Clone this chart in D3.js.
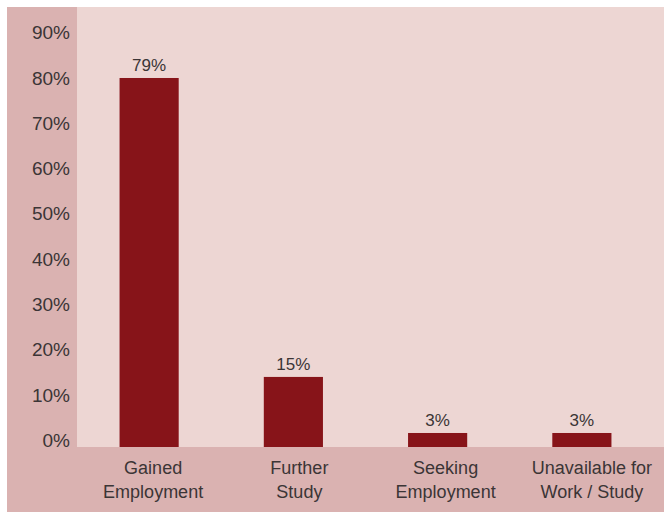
<!DOCTYPE html>
<html>
<head>
<meta charset="utf-8">
<script src="https://cdn.jsdelivr.net/npm/d3@7"></script>
<style>
  html, body { margin: 0; padding: 0; background: #ffffff; }
  svg { display: block; font-family: "Liberation Sans", Arial, sans-serif; }
</style>
</head>
<body>
<svg id="chart" width="664" height="512"></svg>
<script>
// Graduate outcomes by destination (share of graduates)
const categories = [["Gained", "Employment"], ["Further", "Study"], ["Seeking", "Employment"], ["Unavailable for", "Work / Study"]];
const values = [0.79, 0.15, 0.03, 0.03];
const valueLabels = ["79%", "15%", "3%", "3%"];
const tickValues = [0, 0.1, 0.2, 0.3, 0.4, 0.5, 0.6, 0.7, 0.8, 0.9];

const svg = d3.select("#chart");
const W = 664, H = 512;
const frame = { left: 7, top: 7 };
const plot = { left: 77, top: 7, right: 664, bottom: 447 };

const colors = {
  frame: "#dab2b1",
  plot: "#edd6d3",
  bar: "#871419",
  text: "#3b3536"
};

// outer panel and plot area
svg.append("rect")
  .attr("x", frame.left).attr("y", frame.top)
  .attr("width", W - frame.left).attr("height", H - frame.top)
  .attr("fill", colors.frame);
svg.append("rect")
  .attr("x", plot.left).attr("y", plot.top)
  .attr("width", plot.right - plot.left).attr("height", plot.bottom - plot.top)
  .attr("fill", colors.plot);

const keys = categories.map(c => c.join(" "));

// bar positions
const x = d3.scaleBand().domain(keys).range([77, 654]).paddingInner(0.59).paddingOuter(0.295);
// category label positions
const xLabel = d3.scaleBand().domain(keys).range([80, 665]);
// bar heights
const y = d3.scaleLinear().domain([0, 1]).range([plot.bottom, plot.bottom - 467.1]);
// value axis labels
const yTick = d3.scaleLinear().domain([0, 0.9]).range([439.5, 32]);

// bars
svg.append("g").selectAll("rect")
  .data(values)
  .join("rect")
  .attr("x", (d, i) => x(keys[i]))
  .attr("width", x.bandwidth())
  .attr("y", d => y(d))
  .attr("height", d => y(0) - y(d))
  .attr("fill", colors.bar);

// value labels above bars
svg.append("g").selectAll("text")
  .data(values)
  .join("text")
  .attr("x", (d, i) => x(keys[i]) + x.bandwidth() / 2)
  .attr("y", d => y(d) - 7)
  .attr("text-anchor", "middle")
  .attr("font-size", 17)
  .attr("fill", colors.text)
  .text((d, i) => valueLabels[i]);

// value axis
const yAxis = d3.axisLeft(yTick).tickValues(tickValues).tickFormat(d3.format(".0%")).tickSize(0).tickPadding(0);
const gy = svg.append("g").attr("transform", "translate(70,0)").call(yAxis);
gy.select(".domain").remove();
gy.selectAll("text")
  .attr("font-size", 19)
  .attr("font-family", "Liberation Sans, Arial, sans-serif")
  .attr("fill", colors.text)
  .attr("dy", "0.36em");

// category axis
const xAxis = d3.axisBottom(xLabel).tickSize(0).tickPadding(0).tickFormat(() => "");
const gx = svg.append("g").attr("transform", `translate(0,${plot.bottom})`).call(xAxis);
gx.select(".domain").remove();
gx.selectAll(".tick text").each(function(d, i) {
  const t = d3.select(this)
    .attr("y", 0).attr("dy", null)
    .attr("font-size", 18)
    .attr("font-family", "Liberation Sans, Arial, sans-serif")
    .attr("fill", colors.text);
  categories[i].forEach((line, j) => {
    t.append("tspan").attr("x", 0).attr("y", 27 + j * 24).text(line);
  });
});
</script>
</body>
</html>
